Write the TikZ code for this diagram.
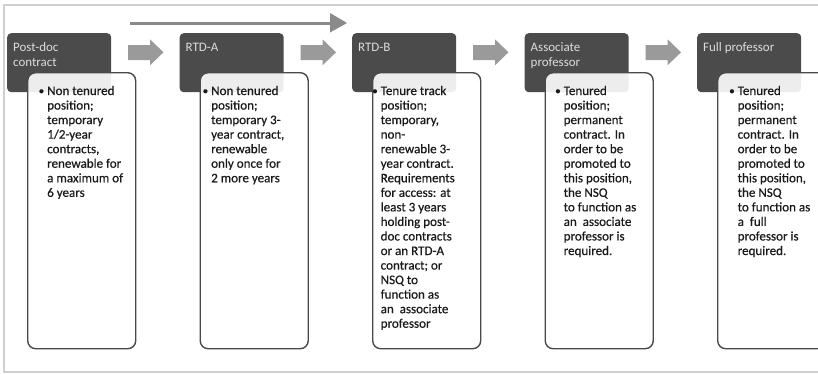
\documentclass[tikz,border=0pt]{standalone}
\usepackage{fontspec}
\setmainfont{Carlito}
\newfontfamily\bodyfont[FakeBold=0.5]{Carlito}
\definecolor{hdrfill}{HTML}{4B4B4B}
\definecolor{hdrtext}{HTML}{DCDCDC}
\definecolor{boxline}{HTML}{4A4A4A}
\definecolor{bodytext}{HTML}{1A1A1A}
\definecolor{arrowgray}{HTML}{9A9A9A}
\definecolor{longarrow}{HTML}{8A8A8A}
\definecolor{framegray}{HTML}{D0D0D0}
\newcommand{\bul}{\makebox[0pt][r]{\raisebox{0.6bp}{\scalebox{0.85}{•}}\hspace{3bp}}}
\tikzset{
  hdr/.style={draw=none, fill=hdrfill, rounded corners=4bp, anchor=north west,
    minimum width=104bp, minimum height=59bp, inner sep=0pt},
  bodybox/.style={draw=boxline, line width=1.4bp, fill=white, fill opacity=0.9,
    rounded corners=8bp, anchor=north west, minimum width=108bp, minimum height=276bp, inner sep=0pt},
  hdrtxt/.style={anchor=base west, inner sep=0pt, text=hdrtext,
    font=\fontsize{13}{15}\selectfont},
  bodytxt/.style={anchor=base west, inner sep=0pt, text=bodytext,
    font=\bodyfont\fontsize{13.1}{14.6}\selectfont},
  blockarrow/.style={fill=arrowgray, draw=none},
}
\begin{document}
\begin{tikzpicture}[x=1bp, y=-1bp]
\useasboundingbox (0,0) rectangle (818,373);
\clip (0,0) rectangle (818,373);
\fill[white] (0,0) rectangle (818,373);
% frame
\draw[framegray, line width=1.5bp] (818,5) -- (4,5) -- (4,372) -- (818,372);
% long arrow
\draw[longarrow, line width=3bp] (130,23) -- (331,23);
\fill[longarrow] (330,13) -- (347,23) -- (330,32.5) -- cycle;
% headers
\node[hdr] (h1) at (7,33) {};
\node[hdr] (h2) at (179.5,33) {};
\node[hdr] (h3) at (352,33) {};
\node[hdr] (h4) at (524.5,33) {};
\node[hdr] (h5) at (697,33) {};
% block arrows
\foreach \i in {0,1,2,3}{
  \fill[blockarrow] ({128+172.5*\i},45) -- ({150+172.5*\i},45) -- ({150+172.5*\i},39.3)
    -- ({163.5+172.5*\i},52.3) -- ({150+172.5*\i},65.3) -- ({150+172.5*\i},60)
    -- ({128+172.5*\i},60) -- cycle;
}
% header texts
\node[hdrtxt] (ht1) at (13,51.5) {\parbox[t]{100bp}{Post-doc\\contract}};
\node[hdrtxt] (ht2) at (185.5,51.5) {\parbox[t]{100bp}{RTD-A}};
\node[hdrtxt] (ht3) at (358,51.5) {\parbox[t]{100bp}{RTD-B}};
\node[hdrtxt] (ht4) at (530.5,51.5) {\parbox[t]{100bp}{Associate\\professor}};
\node[hdrtxt] (ht5) at (703,51.5) {\parbox[t]{100bp}{Full professor}};
% body boxes
\node[bodybox] (b1) at (27,72) {};
\node[bodybox] (b2) at (199.5,72) {};
\node[bodybox] (b3) at (372,72) {};
\node[bodybox] (b4) at (544.5,72) {};
\node[bodybox] (b5) at (717,72) {};
% body texts
\node[bodytxt] (t1) at (47,95) {\parbox[t]{100bp}{\raggedright
  \bul Non tenured\\position;\\temporary\\1/2-year\\contracts,\\renewable for\\a maximum of\\6 years}};
\node[bodytxt] (t2) at (211,95) {\parbox[t]{100bp}{\raggedright
  \bul Non tenured\\position;\\temporary 3-\\year contract,\\renewable\\only once for\\2 more years}};
\node[bodytxt] (t3) at (380.5,95) {\parbox[t]{100bp}{\raggedright
  \bul Tenure track\\position;\\temporary,\\non-\\renewable 3-\\year contract.\\Requirements\\for access: at\\least 3 years\\holding post-\\doc contracts\\or an RTD-A\\contract; or\\NSQ to\\function as\\an\ \ associate\\professor}};
\node[bodytxt] (t4) at (563.5,95) {\parbox[t]{100bp}{\raggedright
  \bul Tenured\\position;\\permanent\\contract. In\\order to be\\promoted to\\this position,\\the NSQ\\to function as\\an\ \ associate\\professor is\\required.}};
\node[bodytxt] (t5) at (737.5,95) {\parbox[t]{100bp}{\raggedright
  \bul Tenured\\position;\\permanent\\contract. In\\order to be\\promoted to\\this position,\\the NSQ\\to function as\\a\ \ full\\professor is\\required.}};
\end{tikzpicture}
\end{document}
